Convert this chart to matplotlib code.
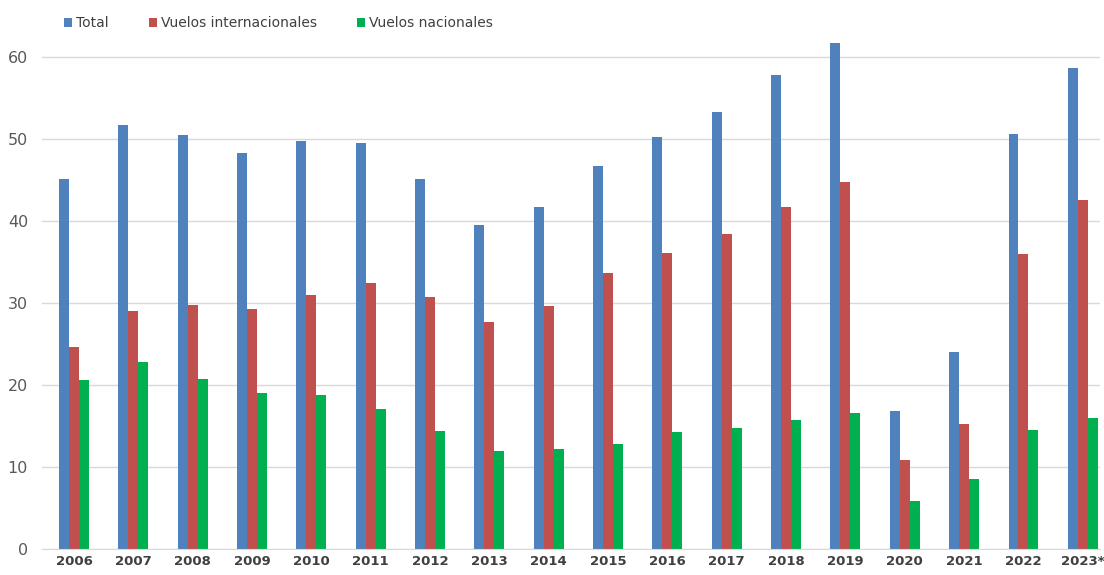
"""
Pasajeros por año: total, vuelos internacionales y nacionales (barras agrupadas).
"""
import numpy as np
import matplotlib
matplotlib.use("Agg")
import matplotlib.pyplot as plt

YEARS = ["2006", "2007", "2008", "2009", "2010", "2011", "2012", "2013", "2014",
         "2015", "2016", "2017", "2018", "2019", "2020", "2021", "2022", "2023*"]
TOTAL = [45.1, 51.7, 50.5, 48.3, 49.8, 49.6, 45.1, 39.6, 41.7,
         46.7, 50.3, 53.3, 57.8, 61.7, 16.9, 24.0, 50.6, 58.7]
INTER = [24.6, 29.1, 29.8, 29.3, 31.0, 32.5, 30.7, 27.7, 29.6,
         33.7, 36.1, 38.5, 41.8, 44.8, 10.9, 15.2, 36.0, 42.6]
NACIO = [20.6, 22.8, 20.7, 19.0, 18.8, 17.1, 14.4, 11.9, 12.2,
         12.8, 14.3, 14.8, 15.8, 16.6, 5.9, 8.6, 14.5, 16.0]
YTICKS = [0, 10, 20, 30, 40, 50, 60]

SERIES = [("Total", TOTAL, "#4F81BD"),
          ("Vuelos internacionales", INTER, "#C0504D"),
          ("Vuelos nacionales", NACIO, "#00B050")]

plt.rcParams.update({"font.family": "DejaVu Sans"})

def main():
    fig = plt.figure(figsize=(11.04, 5.75), dpi=100)
    ax = fig.add_axes([42/1104, 1-549/575, (1100-42)/1104, (549-41)/575])

    x = np.arange(len(YEARS))
    w = 0.168
    for i, (label, vals, col) in enumerate(SERIES):
        ax.bar(x + (i-1)*w, vals, width=w, color=col, label=label, zorder=3)

    ax.set_xlim(-0.54, len(YEARS)-1+0.29)
    ax.set_ylim(0, 62)
    ax.set_yticks(YTICKS)
    ax.set_xticks(x)
    ax.set_xticklabels(YEARS, fontsize=9.5, fontweight="bold", color="#404040")
    ax.tick_params(axis="y", length=0, pad=10, labelsize=11.5, labelcolor="#595959")
    ax.tick_params(axis="x", length=0, pad=4)
    ax.grid(axis="y", color="#D9D9D9", lw=1, zorder=0)
    for s in ("top", "right", "left"):
        ax.spines[s].set_visible(False)
    ax.spines["bottom"].set_color("#D9D9D9")
    ax.spines["bottom"].set_zorder(4)

    fig.legend(loc="center left", bbox_to_anchor=(64/1104, 1-23/575), ncol=3,
               frameon=False, fontsize=10, handlelength=0.6, handleheight=0.6,
               handletextpad=0.25, columnspacing=2.9, borderpad=0, borderaxespad=0,
               labelcolor="#404040")

    fig.savefig("out.png", dpi=100)

if __name__ == "__main__":
    main()
